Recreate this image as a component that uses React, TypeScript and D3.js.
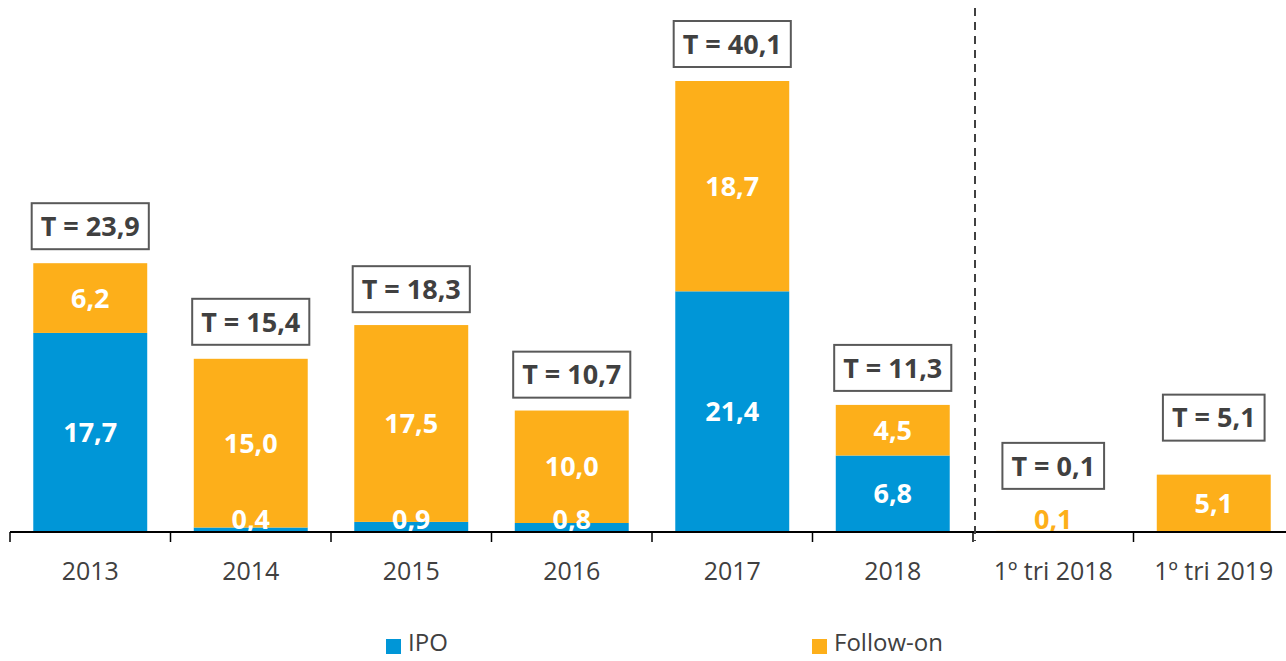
import React from 'react';
import * as d3 from 'd3';

const categories = ['2013', '2014', '2015', '2016', '2017', '2018', '1º tri 2018', '1º tri 2019'];
const ipo = [17.7, 0.4, 0.9, 0.8, 21.4, 6.8, 0, 0];
const followOn = [6.2, 15.0, 17.5, 10.0, 18.7, 4.5, 0.1, 5.1];
const totals = [23.9, 15.4, 18.3, 10.7, 40.1, 11.3, 0.1, 5.1];
const quarterStart = 6; // first quarterly column (after the dashed divider)

const BLUE = '#0096d7';
const ORANGE = '#fdaf1a';
const DARK = '#404040';
const FONT = '"Open Sans", "Noto Sans", sans-serif';

const fmt = (v: number) => v.toFixed(1).replace('.', ',');

let ctx: CanvasRenderingContext2D | null = null;
function textWidth(s: string, font: string) {
  if (!ctx) ctx = document.createElement('canvas').getContext('2d');
  if (!ctx) return s.length * 14;
  ctx.font = font;
  return ctx.measureText(s).width;
}

export default function App() {
  const width = 1286;
  const height = 661;
  const baseline = 532;

  const x = d3.scaleBand<string>()
    .domain(categories)
    .range([10, 1294])
    .paddingInner(0.29)
    .paddingOuter(0.145);
  const y = d3.scaleLinear().domain([0, 40.1]).range([baseline, 81]);

  const stack = d3.stack<number>()
    .keys(['ipo', 'followOn'])
    .value((i, key) => (key === 'ipo' ? ipo[i] : followOn[i]));
  const series = stack(categories.map((_, i) => i));
  const colors = [BLUE, ORANGE];

  const step = x.step();
  const bandStart = (i: number) => x(categories[i])! - (step - x.bandwidth()) / 2;
  const divX = bandStart(quarterStart);

  const tFont = `bold 27px ${FONT}`;

  return (
    <svg width={width} height={height} style={{ position: 'absolute', left: 0, top: 0, fontFamily: FONT }}>
      <rect width={width} height={height} fill="#fff" />
      {series.map((s, si) => (
        <g key={s.key} fill={colors[si]}>
          {s.map((d, i) => {
            const h = y(d[0]) - y(d[1]);
            if (h <= 0) return null;
            return <rect key={i} x={x(categories[i])} y={y(d[1])} width={x.bandwidth()} height={h} />;
          })}
        </g>
      ))}
      {series.map((s, si) => (
        <g key={s.key + 'l'} fontWeight="bold" fontSize={27} textAnchor="middle">
          {s.map((d, i) => {
            const v = d[1] - d[0];
            if (v <= 0) return null;
            const h = y(d[0]) - y(d[1]);
            const cy = Math.min((y(d[0]) + y(d[1])) / 2, baseline - 13);
            const outside = h < 2;
            return (
              <text key={i} x={x(categories[i])! + x.bandwidth() / 2} y={cy} dy="0.36em"
                fill={outside ? colors[si] : '#fff'}>
                {fmt(v)}
              </text>
            );
          })}
        </g>
      ))}
      {totals.map((t, i) => {
        const label = `T = ${fmt(t)}`;
        const w = textWidth(label, tFont) + 18;
        const bh = 46;
        let gap = i >= quarterStart ? 34 : 14;
        if (baseline - y(t) < 2) gap += 8;
        const bottom = y(t) - gap;
        const cx = x(categories[i])! + x.bandwidth() / 2;
        return (
          <g key={i}>
            <rect x={cx - w / 2} y={bottom - bh} width={w} height={bh} fill="#fff" stroke="#595959" strokeWidth={2} />
            <text x={cx} y={bottom - bh / 2} dy="0.36em" textAnchor="middle" fontWeight="bold" fontSize={27} fill={DARK}>
              {label}
            </text>
          </g>
        );
      })}
      <line x1={10} x2={width} y1={baseline} y2={baseline} stroke="#000" strokeWidth={2} />
      {categories.map((c, i) => (
        <line key={c} x1={bandStart(i)} x2={bandStart(i)} y1={baseline} y2={baseline + 10} stroke="#000" strokeWidth={1.5} />
      ))}
      {categories.map((c) => (
        <text key={c} x={x(c)! + x.bandwidth() / 2} y={571} dy="0.36em" textAnchor="middle" fontSize={25} fill={DARK}>
          {c}
        </text>
      ))}
      <line x1={divX + 2} x2={divX + 2} y1={8} y2={541} stroke="#404040" strokeWidth={2} strokeDasharray="8 6" />
      <g fontSize={24} fill={DARK}>
        <rect x={386} y={639} width={15} height={15} fill={BLUE} />
        <text x={408} y={642} dy="0.36em">IPO</text>
        <rect x={812} y={639} width={15} height={15} fill={ORANGE} />
        <text x={834} y={642} dy="0.36em">Follow-on</text>
      </g>
    </svg>
  );
}
